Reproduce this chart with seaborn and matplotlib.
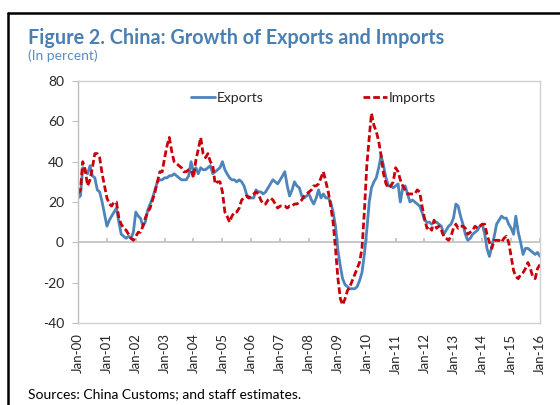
import pandas as pd
import matplotlib
matplotlib.use("Agg")
import matplotlib.pyplot as plt
import matplotlib.dates as mdates
from matplotlib.lines import Line2D
import seaborn as sns

# monthly growth rates, Jan-2000 .. Jan-2016
exports = [
    22, 23, 37, 35, 34, 38, 33, 32, 26, 25, 20, 14,      # 2000
    8, 11, 13, 15, 17, 10, 4, 3, 2, 3, 2, 5,             # 2001
    15, 13, 12, 8, 10, 16, 19, 22, 26, 30, 31, 31,       # 2002
    32, 32, 33, 33, 34, 33, 32, 31, 31, 31, 33, 40,      # 2003
    35, 37, 34, 37, 36, 36, 37, 38, 34, 35, 36, 37,      # 2004
    40, 36, 34, 32, 31, 31, 30, 31, 30, 28, 24, 22,      # 2005
    22, 22, 26, 25, 25, 24, 25, 27, 29, 31, 30, 29,      # 2006
    31, 33, 35, 28, 23, 26, 30, 28, 27, 23, 22, 23,      # 2007
    24, 21, 19, 22, 26, 22, 24, 22, 22, 20, 15, 8,       # 2008
    -4, -12, -18, -21, -22, -23, -23, -23, -22, -19, -15, -6,  # 2009
    6, 20, 27, 30, 32, 37, 43, 38, 32, 28, 28, 27,       # 2010
    28, 29, 20, 27, 28, 24, 20, 21, 20, 19, 18, 15,      # 2011
    11, 10, 10, 9, 10, 10, 9, 8, 4, 6, 8, 9,             # 2012
    12, 19, 18, 13, 9, 4, 1, 2, 4, 5, 6, 8,              # 2013
    9, 4, -3, -7, -2, 3, 9, 11, 13, 12, 12, 9,           # 2014
    7, 4, 13, 5, 0, -6, -3, -3, -4, -5, -6, -5,          # 2015
    -7,                                                  # 2016
]
imports = [
    24, 26, 40, 36, 28, 31, 37, 44, 44, 42, 34, 28,      # 2000
    22, 19, 18, 20, 20, 12, 9, 7, 6, 4, 2, 1,            # 2001
    3, 5, 5, 8, 12, 15, 17, 21, 25, 30, 35, 35,          # 2002
    42, 48, 52, 45, 40, 39, 38, 37, 35, 35, 36, 36,      # 2003
    32, 41, 46, 52, 44, 42, 44, 40, 38, 29, 30, 30,      # 2004
    25, 15, 13, 10, 13, 15, 15, 17, 21, 22, 23, 22,      # 2005
    23, 24, 25, 24, 21, 19, 19, 21, 22, 21, 19, 17,      # 2006
    18, 18, 18, 17, 18, 18, 19, 19, 20, 21, 23, 24,      # 2007
    25, 26, 28, 28, 29, 32, 35, 30, 25, 18, 10, -3,      # 2008
    -18, -28, -31, -28, -24, -22, -19, -16, -13, -10, -3, 15,  # 2009
    38, 52, 64, 58, 55, 50, 43, 34, 29, 27, 28, 30,      # 2010
    37, 35, 31, 28, 26, 24, 24, 24, 24, 26, 25, 18,      # 2011
    12, 7, 8, 6, 11, 7, 8, 6, 3, 2, 1, 3,                # 2012
    7, 9, 7, 8, 8, 7, 4, 5, 6, 8, 7, 8,                  # 2013
    9, 9, 4, 0, -3, 1, 1, 1, 0, 2, 3, 0,                 # 2014
    -7, -14, -17, -18, -16, -15, -13, -10, -13, -17, -18, -13,  # 2015
    -11,                                                 # 2016
]
dates = pd.date_range("2000-01-01", periods=len(exports), freq="MS")
year_ticks = pd.date_range("2000-01-01", "2016-01-01", freq="YS")

df = pd.DataFrame({"date": dates, "Exports": exports, "Imports": imports})

sns.set_style("white")
plt.rcParams["font.family"] = ["Lato", "DejaVu Sans"]
plt.rcParams["axes.unicode_minus"] = False

fig = plt.figure(figsize=(5.6, 4.05), dpi=100)
ax = fig.add_axes([78 / 560, 1 - 323 / 405, 462 / 560, 242 / 405])

blue = "#4c84bb"
red = "#c8000a"
sns.lineplot(data=df, x="date", y="Exports", ax=ax, color=blue, lw=2.0, label="Exports")
sns.lineplot(data=df, x="date", y="Imports", ax=ax, color=red, lw=2.0,
             linestyle=(0, (2.4, 1.1)), label="Imports")

ax.set_xlim(pd.Timestamp("2000-01-01"), pd.Timestamp("2016-01-01"))
ax.set_ylim(-40, 80)
ax.set_yticks(range(-40, 81, 20))
ax.set_xticks(year_ticks)
ax.xaxis.set_major_formatter(mdates.DateFormatter("%b-%y"))
ax.set_xlabel("")
ax.set_ylabel("")

# zero line with year ticks
ax.axhline(0, color="#bfbfbf", lw=1.2, zorder=1)
ax.vlines(year_ticks, 0, 2, color="#bfbfbf", lw=1.2, zorder=1)

for s in ax.spines.values():
    s.set_color("#d0d0d0")
    s.set_linewidth(1.0)
ax.spines["left"].set_color("#bfbfbf")
ax.tick_params(axis="y", left=True, length=4, color="#bfbfbf", labelsize=10, pad=6)
ax.tick_params(axis="x", bottom=False, labelsize=9.5, pad=4, labelrotation=90)

leg = ax.legend(loc="upper center", ncol=2, frameon=False, fontsize=10,
                handlelength=1.7, handletextpad=0.15, columnspacing=7.2,
                bbox_to_anchor=(0.51, 1.0), borderaxespad=0.4)

fig.text(28 / 560, 1 - 44 / 405, "Figure 2. China: Growth of Exports and Imports",
         fontsize=14.2, fontweight="bold", color="#4a7fb2", va="baseline")
fig.text(28 / 560, 1 - 60.5 / 405, "(In percent)", fontsize=10, color="#5b8cc2",
         va="baseline")
fig.text(28 / 560, 1 - 398 / 405, "Sources: China Customs; and staff estimates.",
         fontsize=10, color="black", va="baseline")

# frame on left and top
fig.add_artist(Line2D([7.5 / 560, 7.5 / 560], [0, 1 - 12.5 / 405], color="black", lw=1.8))
fig.add_artist(Line2D([7.5 / 560, 1], [1 - 12.5 / 405, 1 - 12.5 / 405], color="black", lw=1.8))

fig.savefig("out.png", dpi=100)
